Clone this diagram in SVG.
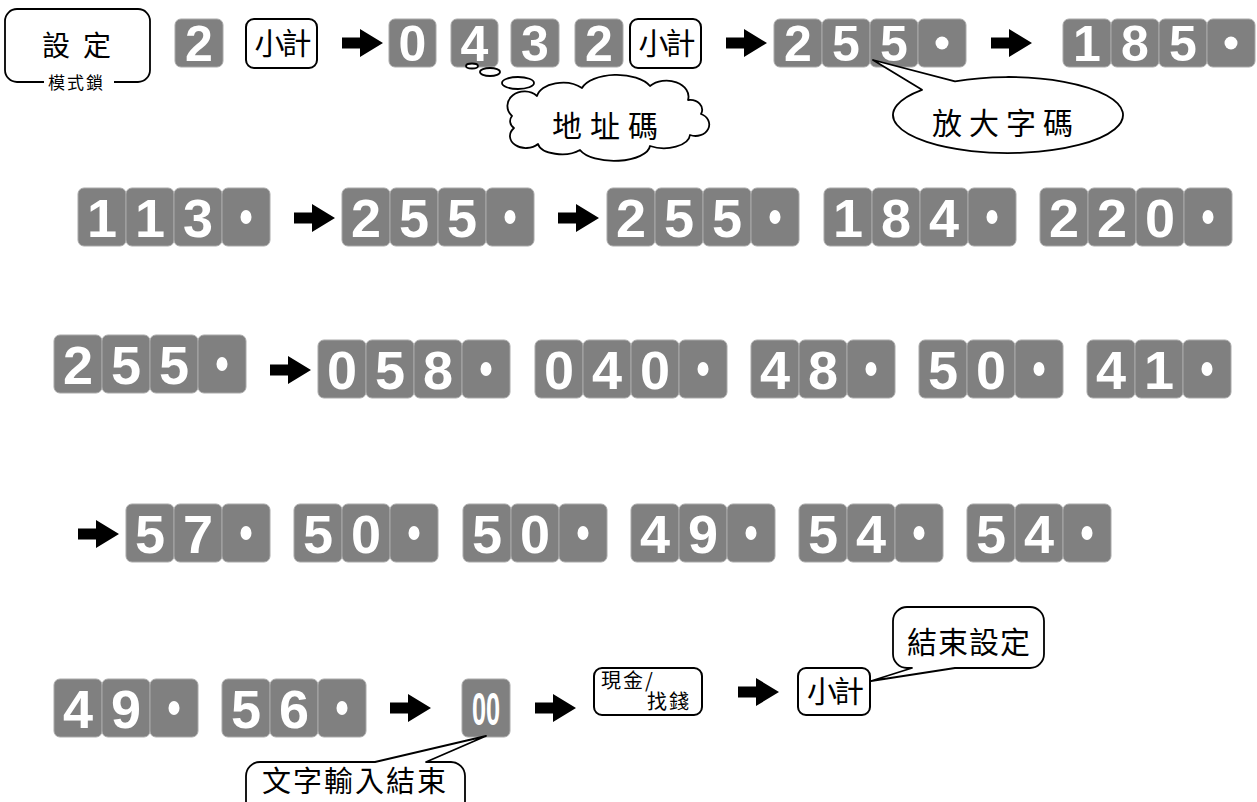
<svg xmlns="http://www.w3.org/2000/svg" width="1257" height="802" viewBox="0 0 1257 802">
<style>
.k{fill:#808080;stroke:#a9a9a9;stroke-width:1}
.d{font-family:"Liberation Sans",Arial,sans-serif;font-weight:bold;fill:#fff;text-anchor:middle}
.d1{font-size:50px}
.d2{font-size:54px}
.dot{fill:#fff}
.box{fill:#fff;stroke:#000;stroke-width:2}
.ln{fill:#fff;stroke:#000;stroke-width:1.8;stroke-linejoin:round}
.cj{font-family:"Noto Sans CJK TC","Noto Sans CJK SC",sans-serif;fill:#000}
.arr{fill:#000}
</style>
<defs>
<path id="arr" d="M0 -5.5 H18 V-14 L41 0 L18 14 V5.5 H0 Z"/>
</defs>
<rect width="1257" height="802" fill="#fff"/>

<g id="mode-setting">
<path class="ln" d="M44 82 H17 A12 12 0 0 1 5 70 V21 A12 12 0 0 1 17 9 H138 A12 12 0 0 1 150 21 V70 A12 12 0 0 1 138 82 H114" style="fill:none"/>
<text class="cj" x="42" y="56" font-size="28" letter-spacing="13">設定</text>
<text class="cj" x="48" y="89" font-size="17" letter-spacing="2">模式鎖</text>
</g>

<g id="r1-key2"><rect class="k" x="175" y="19" width="48" height="48" rx="6"/><text class="d d1" x="199" y="61">2</text></g>
<g id="r1-subtotal"><rect class="box" x="246" y="19" width="71" height="49" rx="8"/><text class="cj" x="281.5" y="54" font-size="30" letter-spacing="-3" text-anchor="middle">小計</text></g>
<g id="r1-key0"><rect class="k" x="389" y="19" width="47" height="48" rx="6"/><text class="d d1" x="412.5" y="61">0</text></g>
<g id="r1-key4"><rect class="k" x="451" y="19" width="47" height="48" rx="6"/><text class="d d1" x="474.5" y="61">4</text></g>
<g id="r1-key3"><rect class="k" x="511" y="19" width="48" height="48" rx="6"/><text class="d d1" x="535" y="61">3</text></g>
<g id="r1-key2b"><rect class="k" x="575" y="19" width="48" height="48" rx="6"/><text class="d d1" x="599" y="61">2</text></g>
<g id="r1-subtotal2"><rect class="box" x="630" y="19" width="71" height="49" rx="8"/><text class="cj" x="665.5" y="54" font-size="30" letter-spacing="-3" text-anchor="middle">小計</text></g>
<g id="r1-255">
<rect class="k" x="774" y="19" width="48" height="48" rx="6"/><text class="d d1" x="798" y="61">2</text>
<rect class="k" x="822" y="19" width="48" height="48" rx="6"/><text class="d d1" x="846" y="61">5</text>
<rect class="k" x="870" y="19" width="48" height="48" rx="6"/><text class="d d1" x="894" y="61">5</text>
<rect class="k" x="918" y="19" width="48" height="48" rx="6"/><circle class="dot" cx="942" cy="43" r="6.5"/>
</g>
<g id="r1-185">
<rect class="k" x="1063" y="19" width="48" height="48" rx="6"/><text class="d d1" x="1087" y="61">1</text>
<rect class="k" x="1111" y="19" width="48" height="48" rx="6"/><text class="d d1" x="1135" y="61">8</text>
<rect class="k" x="1159" y="19" width="48" height="48" rx="6"/><text class="d d1" x="1183" y="61">5</text>
<rect class="k" x="1207" y="19" width="48" height="48" rx="6"/><circle class="dot" cx="1231" cy="43" r="6.5"/>
</g>

<g id="address-cloud">
<ellipse class="ln" cx="472" cy="66" rx="6" ry="2.5"/>
<ellipse class="ln" cx="490" cy="72" rx="10" ry="4"/>
<ellipse class="ln" cx="518" cy="83" rx="16" ry="6"/>
<path class="ln" d="M512 116 A14 12 0 0 1 537 96 A26 16 0 0 1 582 88 A36 18 0 0 1 650 86 A22 16 0 0 1 688 100 A12 10 0 0 1 701 114 A12 10 0 0 1 690 135 A26 14 0 0 1 650 146 A36 16 0 0 1 580 150 A24 12 0 0 1 538 144 A16 12 0 0 1 514 128 A8 8 0 0 1 512 116 Z"/>
<text class="cj" x="552" y="137" font-size="30" letter-spacing="8">地址碼</text>
</g>

<g id="zoom-bubble">
<path class="ln" d="M955 81.3 A115 38 0 1 1 922 89.8 L873 60 Z"/>
<text class="cj" x="932" y="134" font-size="30" letter-spacing="7">放大字碼</text>
</g>

<g id="r2-113">
<rect class="k" x="78" y="188" width="48" height="58" rx="6"/><text class="d d2" x="102" y="236.5">1</text>
<rect class="k" x="126" y="188" width="48" height="58" rx="6"/><text class="d d2" x="150" y="236.5">1</text>
<rect class="k" x="174" y="188" width="48" height="58" rx="6"/><text class="d d2" x="198" y="236.5">3</text>
<rect class="k" x="222" y="188" width="48" height="58" rx="6"/><ellipse class="dot" cx="246" cy="217" rx="5.5" ry="7"/>
</g>
<g id="r2-255a">
<rect class="k" x="342" y="188" width="48" height="58" rx="6"/><text class="d d2" x="366" y="236.5">2</text>
<rect class="k" x="390" y="188" width="48" height="58" rx="6"/><text class="d d2" x="414" y="236.5">5</text>
<rect class="k" x="438" y="188" width="48" height="58" rx="6"/><text class="d d2" x="462" y="236.5">5</text>
<rect class="k" x="486" y="188" width="48" height="58" rx="6"/><ellipse class="dot" cx="510" cy="217" rx="5.5" ry="7"/>
</g>
<g id="r2-255b">
<rect class="k" x="607" y="188" width="48" height="58" rx="6"/><text class="d d2" x="631" y="236.5">2</text>
<rect class="k" x="655" y="188" width="48" height="58" rx="6"/><text class="d d2" x="679" y="236.5">5</text>
<rect class="k" x="703" y="188" width="48" height="58" rx="6"/><text class="d d2" x="727" y="236.5">5</text>
<rect class="k" x="751" y="188" width="48" height="58" rx="6"/><ellipse class="dot" cx="775" cy="217" rx="5.5" ry="7"/>
</g>
<g id="r2-184">
<rect class="k" x="824" y="188" width="48" height="58" rx="6"/><text class="d d2" x="848" y="236.5">1</text>
<rect class="k" x="872" y="188" width="48" height="58" rx="6"/><text class="d d2" x="896" y="236.5">8</text>
<rect class="k" x="920" y="188" width="48" height="58" rx="6"/><text class="d d2" x="944" y="236.5">4</text>
<rect class="k" x="968" y="188" width="48" height="58" rx="6"/><ellipse class="dot" cx="992" cy="217" rx="5.5" ry="7"/>
</g>
<g id="r2-220">
<rect class="k" x="1040" y="188" width="48" height="58" rx="6"/><text class="d d2" x="1064" y="236.5">2</text>
<rect class="k" x="1088" y="188" width="48" height="58" rx="6"/><text class="d d2" x="1112" y="236.5">2</text>
<rect class="k" x="1136" y="188" width="48" height="58" rx="6"/><text class="d d2" x="1160" y="236.5">0</text>
<rect class="k" x="1184" y="188" width="48" height="58" rx="6"/><ellipse class="dot" cx="1208" cy="217" rx="5.5" ry="7"/>
</g>

<g id="r3-255">
<rect class="k" x="54" y="335" width="48" height="58" rx="6"/><text class="d d2" x="78" y="383.5">2</text>
<rect class="k" x="102" y="335" width="48" height="58" rx="6"/><text class="d d2" x="126" y="383.5">5</text>
<rect class="k" x="150" y="335" width="48" height="58" rx="6"/><text class="d d2" x="174" y="383.5">5</text>
<rect class="k" x="198" y="335" width="48" height="58" rx="6"/><ellipse class="dot" cx="222" cy="364" rx="5.5" ry="7"/>
</g>
<g id="r3-058">
<rect class="k" x="318" y="340" width="48" height="58" rx="6"/><text class="d d2" x="342" y="388.5">0</text>
<rect class="k" x="366" y="340" width="48" height="58" rx="6"/><text class="d d2" x="390" y="388.5">5</text>
<rect class="k" x="414" y="340" width="48" height="58" rx="6"/><text class="d d2" x="438" y="388.5">8</text>
<rect class="k" x="462" y="340" width="48" height="58" rx="6"/><ellipse class="dot" cx="486" cy="369" rx="5.5" ry="7"/>
</g>
<g id="r3-040">
<rect class="k" x="535" y="340" width="48" height="58" rx="6"/><text class="d d2" x="559" y="388.5">0</text>
<rect class="k" x="583" y="340" width="48" height="58" rx="6"/><text class="d d2" x="607" y="388.5">4</text>
<rect class="k" x="631" y="340" width="48" height="58" rx="6"/><text class="d d2" x="655" y="388.5">0</text>
<rect class="k" x="679" y="340" width="48" height="58" rx="6"/><ellipse class="dot" cx="703" cy="369" rx="5.5" ry="7"/>
</g>
<g id="r3-48">
<rect class="k" x="751" y="340" width="48" height="58" rx="6"/><text class="d d2" x="775" y="388.5">4</text>
<rect class="k" x="799" y="340" width="48" height="58" rx="6"/><text class="d d2" x="823" y="388.5">8</text>
<rect class="k" x="847" y="340" width="48" height="58" rx="6"/><ellipse class="dot" cx="871" cy="369" rx="5.5" ry="7"/>
</g>
<g id="r3-50">
<rect class="k" x="919" y="340" width="48" height="58" rx="6"/><text class="d d2" x="943" y="388.5">5</text>
<rect class="k" x="967" y="340" width="48" height="58" rx="6"/><text class="d d2" x="991" y="388.5">0</text>
<rect class="k" x="1015" y="340" width="48" height="58" rx="6"/><ellipse class="dot" cx="1039" cy="369" rx="5.5" ry="7"/>
</g>
<g id="r3-41">
<rect class="k" x="1087" y="340" width="48" height="58" rx="6"/><text class="d d2" x="1111" y="388.5">4</text>
<rect class="k" x="1135" y="340" width="48" height="58" rx="6"/><text class="d d2" x="1159" y="388.5">1</text>
<rect class="k" x="1183" y="340" width="48" height="58" rx="6"/><ellipse class="dot" cx="1207" cy="369" rx="5.5" ry="7"/>
</g>

<g id="r4-57">
<rect class="k" x="126" y="504" width="48" height="58" rx="6"/><text class="d d2" x="150" y="552.5">5</text>
<rect class="k" x="174" y="504" width="48" height="58" rx="6"/><text class="d d2" x="198" y="552.5">7</text>
<rect class="k" x="222" y="504" width="48" height="58" rx="6"/><ellipse class="dot" cx="246" cy="533" rx="5.5" ry="7"/>
</g>
<g id="r4-50a">
<rect class="k" x="294" y="504" width="48" height="58" rx="6"/><text class="d d2" x="318" y="552.5">5</text>
<rect class="k" x="342" y="504" width="48" height="58" rx="6"/><text class="d d2" x="366" y="552.5">0</text>
<rect class="k" x="390" y="504" width="48" height="58" rx="6"/><ellipse class="dot" cx="414" cy="533" rx="5.5" ry="7"/>
</g>
<g id="r4-50b">
<rect class="k" x="463" y="504" width="48" height="58" rx="6"/><text class="d d2" x="487" y="552.5">5</text>
<rect class="k" x="511" y="504" width="48" height="58" rx="6"/><text class="d d2" x="535" y="552.5">0</text>
<rect class="k" x="559" y="504" width="48" height="58" rx="6"/><ellipse class="dot" cx="583" cy="533" rx="5.5" ry="7"/>
</g>
<g id="r4-49">
<rect class="k" x="631" y="504" width="48" height="58" rx="6"/><text class="d d2" x="655" y="552.5">4</text>
<rect class="k" x="679" y="504" width="48" height="58" rx="6"/><text class="d d2" x="703" y="552.5">9</text>
<rect class="k" x="727" y="504" width="48" height="58" rx="6"/><ellipse class="dot" cx="751" cy="533" rx="5.5" ry="7"/>
</g>
<g id="r4-54a">
<rect class="k" x="799" y="504" width="48" height="58" rx="6"/><text class="d d2" x="823" y="552.5">5</text>
<rect class="k" x="847" y="504" width="48" height="58" rx="6"/><text class="d d2" x="871" y="552.5">4</text>
<rect class="k" x="895" y="504" width="48" height="58" rx="6"/><ellipse class="dot" cx="919" cy="533" rx="5.5" ry="7"/>
</g>
<g id="r4-54b">
<rect class="k" x="967" y="504" width="48" height="58" rx="6"/><text class="d d2" x="991" y="552.5">5</text>
<rect class="k" x="1015" y="504" width="48" height="58" rx="6"/><text class="d d2" x="1039" y="552.5">4</text>
<rect class="k" x="1063" y="504" width="48" height="58" rx="6"/><ellipse class="dot" cx="1087" cy="533" rx="5.5" ry="7"/>
</g>

<g id="r5-49">
<rect class="k" x="54" y="679" width="48" height="58" rx="6"/><text class="d d2" x="78" y="727.5">4</text>
<rect class="k" x="102" y="679" width="48" height="58" rx="6"/><text class="d d2" x="126" y="727.5">9</text>
<rect class="k" x="150" y="679" width="48" height="58" rx="6"/><ellipse class="dot" cx="174" cy="708" rx="5.5" ry="7"/>
</g>
<g id="r5-56">
<rect class="k" x="222" y="679" width="48" height="58" rx="6"/><text class="d d2" x="246" y="727.5">5</text>
<rect class="k" x="270" y="679" width="48" height="58" rx="6"/><text class="d d2" x="294" y="727.5">6</text>
<rect class="k" x="318" y="679" width="48" height="58" rx="6"/><ellipse class="dot" cx="342" cy="708" rx="5.5" ry="7"/>
</g>
<g id="r5-00">
<rect class="k" x="462" y="679" width="48" height="58" rx="6"/>
<text class="d" font-size="46" transform="translate(486 724.5) scale(0.55 1)" x="0" y="0">00</text>
</g>
<g id="r5-cash">
<rect class="box" x="594" y="668" width="108" height="47" rx="8"/>
<text class="cj" x="601" y="688" font-size="20" letter-spacing="2">現金/</text>
<text class="cj" x="647" y="709" font-size="20" letter-spacing="2">找錢</text>
</g>
<g id="r5-subtotal">
<rect class="box" x="798" y="668" width="72" height="47" rx="8"/>
<text class="cj" x="834" y="702" font-size="30" letter-spacing="-3" text-anchor="middle">小計</text>
</g>
<g id="end-setting-bubble">
<path class="ln" d="M907 607 H1030 A14 14 0 0 1 1044 621 V654 A14 14 0 0 1 1030 668 H955 L871 681 L912 668 H907 A14 14 0 0 1 893 654 V621 A14 14 0 0 1 907 607 Z"/>
<text class="cj" x="907" y="653" font-size="30" letter-spacing="1">結束設定</text>
</g>
<g id="end-text-bubble">
<path class="ln" d="M246 830 V776 A14 14 0 0 1 260 762 H375 L486 736 L426 762 H451 A14 14 0 0 1 465 776 V830"/>
<text class="cj" x="262" y="792" font-size="29" letter-spacing="2">文字輸入結束</text>
</g>

<g id="connectors">
<use href="#arr" class="arr" x="342" y="43"/>
<use href="#arr" class="arr" x="726" y="43"/>
<use href="#arr" class="arr" x="991" y="43"/>
<use href="#arr" class="arr" x="294" y="218"/>
<use href="#arr" class="arr" x="558" y="218"/>
<use href="#arr" class="arr" x="270" y="370"/>
<use href="#arr" class="arr" x="78" y="534"/>
<use href="#arr" class="arr" x="390" y="708"/>
<use href="#arr" class="arr" x="535" y="708"/>
<use href="#arr" class="arr" x="738" y="692"/>
</g>
</svg>
